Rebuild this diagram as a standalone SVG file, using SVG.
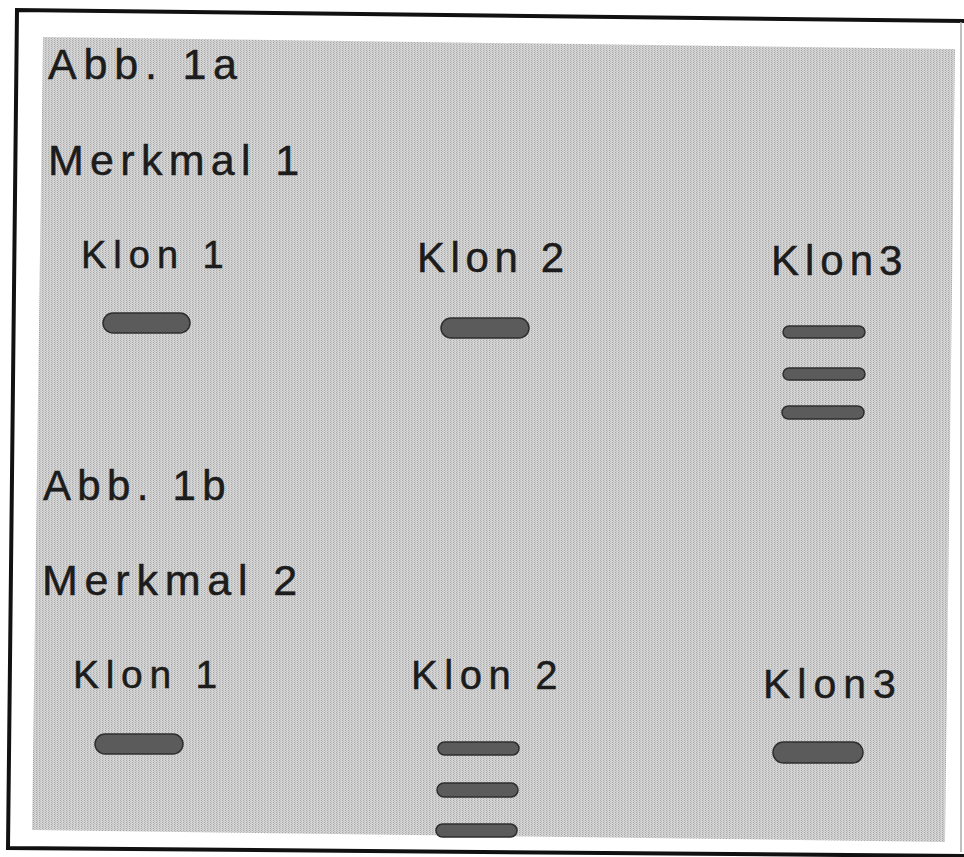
<svg xmlns="http://www.w3.org/2000/svg" width="964" height="857" viewBox="0 0 964 857">
  <style>
    .lbl { font-family: "Liberation Sans", Arial, sans-serif; fill: #1c1c1c; stroke: #1c1c1c; stroke-width: 0.5; }
    .band { fill: #5b5b5b; stroke: #2e2e2e; stroke-width: 1.5; }
  </style>
  <defs>
    <pattern id="dither" width="3" height="2" patternUnits="userSpaceOnUse">
      <rect width="3" height="2" fill="#d4d4d4"/>
      <rect x="0" y="0" width="1" height="1" fill="#a8a8a8"/>
      <rect x="1" y="1" width="1" height="1" fill="#bcbcbc"/>
    </pattern>
  </defs>
  <rect width="964" height="857" fill="#ffffff"/>

  <g id="frame">
    <polygon points="43,37 955,49 945,842 32,830" fill="url(#dither)"/>
    <polyline points="964,21 17,10 8,848 964,856" fill="none" stroke="#111" stroke-width="4"/>
    <line x1="961" y1="22" x2="961" y2="852" stroke="#aaa" stroke-width="1.5"/>
  </g>

  <g id="abb1a">
    <text class="lbl" x="48" y="79" font-size="43" letter-spacing="6.8">Abb. 1a</text>
    <text class="lbl" x="48" y="175" font-size="43" letter-spacing="6.3">Merkmal 1</text>
  </g>

  <g id="a-klon1">
    <text class="lbl" x="81" y="268" font-size="38" letter-spacing="7">Klon 1</text>
    <rect class="band" x="103" y="313" width="87" height="20" rx="10"/>
  </g>
  <g id="a-klon2">
    <text class="lbl" x="417" y="272" font-size="42" letter-spacing="5.6">Klon 2</text>
    <rect class="band" x="441" y="318" width="88" height="20" rx="10"/>
  </g>
  <g id="a-klon3">
    <text class="lbl" x="771" y="275" font-size="42" letter-spacing="6">Klon3</text>
    <rect class="band" x="783" y="326" width="82" height="12" rx="6"/>
    <rect class="band" x="783" y="368" width="82" height="12" rx="6"/>
    <rect class="band" x="782" y="406" width="82" height="13" rx="6.5"/>
  </g>

  <g id="abb1b">
    <text class="lbl" x="43" y="500" font-size="42" letter-spacing="6.3">Abb. 1b</text>
    <text class="lbl" x="42" y="595" font-size="43" letter-spacing="6.8">Merkmal 2</text>
  </g>

  <g id="b-klon1">
    <text class="lbl" x="73" y="688" font-size="39" letter-spacing="6.7">Klon 1</text>
    <rect class="band" x="95" y="734" width="88" height="20" rx="10"/>
  </g>
  <g id="b-klon2">
    <text class="lbl" x="411" y="689" font-size="40" letter-spacing="6.6">Klon 2</text>
    <rect class="band" x="438" y="742" width="81" height="13" rx="6.5"/>
    <rect class="band" x="437" y="783" width="81" height="14" rx="7"/>
    <rect class="band" x="436" y="824" width="81" height="13" rx="6.5"/>
  </g>
  <g id="b-klon3">
    <text class="lbl" x="763" y="698" font-size="41" letter-spacing="7">Klon3</text>
    <rect class="band" x="773" y="742" width="90" height="21" rx="10.5"/>
  </g>

  <g id="connectors"></g>
</svg>
